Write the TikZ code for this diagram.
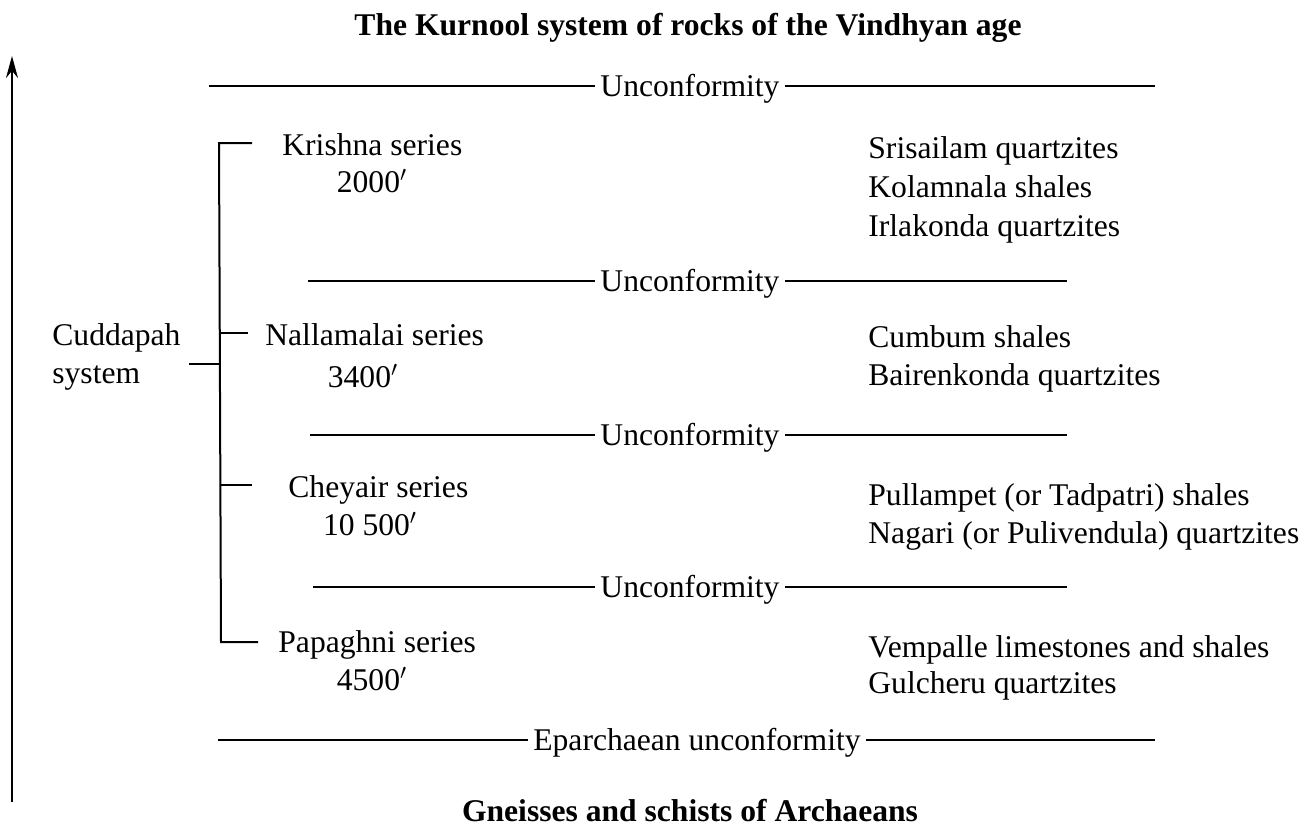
\documentclass[tikz,border=0pt]{standalone}
\usepackage{fontspec}
\setmainfont{Liberation Serif}
\usetikzlibrary{arrows.meta}
\begin{document}
\begin{tikzpicture}[x=0.5pt,y=-0.5pt,
  txt/.style={inner sep=0pt,font=\fontsize{15.8}{19}\selectfont},
  lbl/.style={txt,anchor=base west},
  num/.style={txt,anchor=base},
  unc/.style={txt,anchor=base,inner xsep=2.5pt},
  rule/.style={line width=1pt},
  brace/.style={line width=1pt},
  every node/.append style={text=black}]
\useasboundingbox[fill=white] (0,0) rectangle (1311,830);
% title and base
\node[num,font=\fontsize{15.8}{19}\selectfont\bfseries] (title) at (688,35) {The Kurnool system of rocks of the Vindhyan age};
\node[num,font=\fontsize{15.8}{19}\selectfont\bfseries] (base) at (690,821) {Gneisses and schists of Archaeans};
% time arrow
\coordinate (ab) at (12,802);
\coordinate (at) at (12,56);
\draw[line width=1pt,-{Stealth[length=11pt,width=6pt]}] (ab) -- (at);
% unconformities
\node[unc] (u1) at (690,96) {Unconformity};
\coordinate (u1l) at (209,86); \coordinate (u1r) at (1155,86);
\draw[rule] (u1l) -- (u1l -| u1.west); \draw[rule] (u1.east |- u1r) -- (u1r);
\node[unc] (u2) at (690,291) {Unconformity};
\coordinate (u2l) at (308,281); \coordinate (u2r) at (1067,281);
\draw[rule] (u2l) -- (u2l -| u2.west); \draw[rule] (u2.east |- u2r) -- (u2r);
\node[unc] (u3) at (690,445) {Unconformity};
\coordinate (u3l) at (310,435); \coordinate (u3r) at (1067,435);
\draw[rule] (u3l) -- (u3l -| u3.west); \draw[rule] (u3.east |- u3r) -- (u3r);
\node[unc] (u4) at (690,597) {Unconformity};
\coordinate (u4l) at (313,587); \coordinate (u4r) at (1067,587);
\draw[rule] (u4l) -- (u4l -| u4.west); \draw[rule] (u4.east |- u4r) -- (u4r);
\node[unc] (u5) at (697,750) {Eparchaean unconformity};
\coordinate (u5l) at (218,740); \coordinate (u5r) at (1155,740);
\draw[rule] (u5l) -- (u5l -| u5.west); \draw[rule] (u5.east |- u5r) -- (u5r);
% Cuddapah system
\node[lbl] (cud1) at (52,345) {Cuddapah};
\node[lbl] (cud2) at (52,383) {system};
% series
\node[lbl] (kr) at (282,155) {Krishna series};
\node[num] (krt) at (372,192) {2000$'$};
\node[lbl] (na) at (265,345) {Nallamalai series};
\node[num] (nat) at (363,387) {3400$'$};
\node[lbl] (ch) at (288,497) {Cheyair series};
\node[num] (cht) at (370,535) {10 500$'$};
\node[lbl] (pa) at (278,652) {Papaghni series};
\node[num] (pat) at (372,690) {4500$'$};
% bracket
\coordinate (bt) at (219,143);
\coordinate (bb) at (221,642);
\coordinate (bc) at (220,364);
\coordinate (ct) at (189,364);
\coordinate (kt) at (252,143);
\coordinate (nt1) at (220,333);
\coordinate (nt2) at (248,333);
\coordinate (ch1) at (220,485);
\coordinate (ch2) at (252,485);
\coordinate (pt) at (258,642);
\draw[brace] (kt) -- (bt) -- (bb) -- (pt);
\draw[brace] (ct) -- (bc);
\draw[brace] (nt1) -- (nt2);
\draw[brace] (ch1) -- (ch2);
% formations
\node[lbl] (f1) at (868,158) {Srisailam quartzites};
\node[lbl] (f2) at (868,197) {Kolamnala shales};
\node[lbl] (f3) at (868,236) {Irlakonda quartzites};
\node[lbl] (f4) at (868,347) {Cumbum shales};
\node[lbl] (f5) at (868,385) {Bairenkonda quartzites};
\node[lbl] (f6) at (868,505) {Pullampet (or Tadpatri) shales};
\node[lbl] (f7) at (868,543) {Nagari (or Pulivendula) quartzites};
\node[lbl] (f8) at (868,657) {Vempalle limestones and shales};
\node[lbl] (f9) at (868,693) {Gulcheru quartzites};
\end{tikzpicture}
\end{document}
